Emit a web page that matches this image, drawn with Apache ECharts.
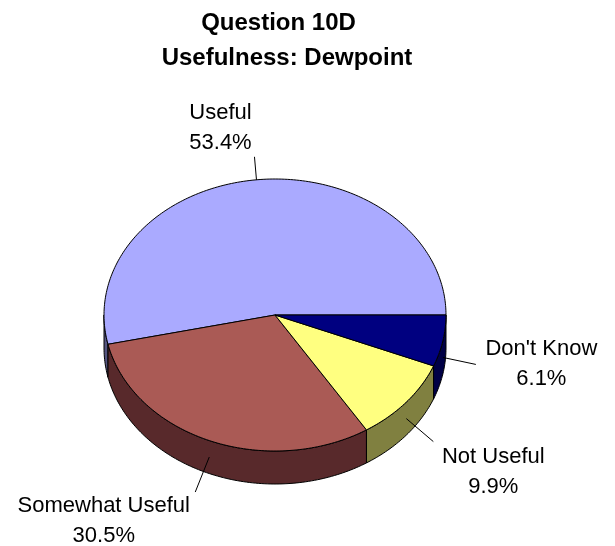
<!DOCTYPE html>
<html>
<head>
<meta charset="utf-8">
<script src="https://cdn.jsdelivr.net/npm/echarts@6/dist/echarts.min.js"></script>
<style>
  html, body { margin: 0; padding: 0; background: #ffffff; }
  #chart { width: 615px; height: 546px; }
</style>
</head>
<body>
<div id="chart"></div>
<script>
// Survey answers and their shares (percent)
const categories = ['Useful', 'Somewhat Useful', 'Not Useful', "Don't Know"];
const percents = [53.4, 30.5, 9.9, 6.1];
const titleLines = ['Question 10D', 'Usefulness: Dewpoint'];

// Face colours (top) and darker wall colours (side) per slice
const topColors = ['#AAAAFF', '#AA5A55', '#FFFF80', '#000080'];
const sideColors = ['#555580', '#58292B', '#808040', '#000046'];

// Leader line end (relative to rim point) and label centre (relative to line end)
const leaderEnds = [[-2, -23], [-14, 35], [27, 23], [33, 7]];
const labelShifts = [[-34, -29], [-91.5, 29], [60, 30], [65.5, 0]];

// Tilted pie geometry
const pie = { cx: 275, cy: 315, rx: 171, ry: 136, depth: 33 };
const LABEL_FONT = '22px "Liberation Sans", Arial, sans-serif';
const TITLE_FONT = 'bold 24px "Liberation Sans", Arial, sans-serif';

const total = percents.reduce((s, v) => s + v, 0);
const startAngles = [];
(function () {
  let acc = 0;
  percents.forEach(v => { startAngles.push(acc); acc += v / total * Math.PI * 2; });
})();

function rim(theta, dy) {
  return [pie.cx + pie.rx * Math.cos(theta), pie.cy - pie.ry * Math.sin(theta) + (dy || 0)];
}

function arcPoints(a, b, dy) {
  const pts = [];
  const n = Math.max(2, Math.ceil((b - a) / (Math.PI / 180)));
  for (let k = 0; k <= n; k++) pts.push(rim(a + (b - a) * k / n, dy));
  return pts;
}

function renderSlice(params, api) {
  const i = params.dataIndex;
  const value = api.value(0);
  const a = startAngles[i];
  const b = a + value / total * Math.PI * 2;
  const children = [];

  // front wall: visible part lies between 180 and 360 degrees
  const lo = Math.max(a, Math.PI), hi = Math.min(b, Math.PI * 2);
  if (hi > lo) {
    const top = arcPoints(lo, hi, 0);
    const bottom = arcPoints(lo, hi, pie.depth).reverse();
    children.push({
      type: 'polygon',
      shape: { points: top.concat(bottom) },
      style: { fill: sideColors[i], stroke: '#000', lineWidth: 1 }
    });
  }

  // top face
  children.push({
    type: 'polygon',
    shape: { points: [[pie.cx, pie.cy]].concat(arcPoints(a, b, 0)) },
    style: { fill: topColors[i], stroke: '#000', lineWidth: 1, lineJoin: 'round' }
  });

  // leader line and label
  const mid = (a + b) / 2;
  const onFront = Math.sin(mid) < 0;
  const start = rim(mid, onFront ? pie.depth / 2 : 0);
  const end = [start[0] + leaderEnds[i][0], start[1] + leaderEnds[i][1]];
  children.push({
    type: 'line',
    shape: { x1: start[0], y1: start[1], x2: end[0], y2: end[1] },
    style: { stroke: '#000', lineWidth: 1 }
  });
  children.push({
    type: 'text',
    style: {
      text: categories[i] + '\n' + value.toFixed(1) + '%',
      x: end[0] + labelShifts[i][0],
      y: end[1] + labelShifts[i][1],
      align: 'center',
      verticalAlign: 'middle',
      lineHeight: 30,
      font: LABEL_FONT,
      fill: '#000'
    }
  });

  return { type: 'group', children: children };
}

const chart = echarts.init(document.getElementById('chart'), null, { renderer: 'canvas' });
chart.setOption({
  backgroundColor: '#ffffff',
  animation: false,
  graphic: [
    { type: 'text', x: 278.5, y: 23, style: { text: titleLines[0], font: TITLE_FONT, fill: '#000', align: 'center', verticalAlign: 'middle' } },
    { type: 'text', x: 287, y: 58, style: { text: titleLines[1], font: TITLE_FONT, fill: '#000', align: 'center', verticalAlign: 'middle' } }
  ],
  series: [{
    type: 'custom',
    coordinateSystem: 'none',
    silent: true,
    data: percents,
    renderItem: renderSlice
  }]
});
</script>
</body>
</html>
